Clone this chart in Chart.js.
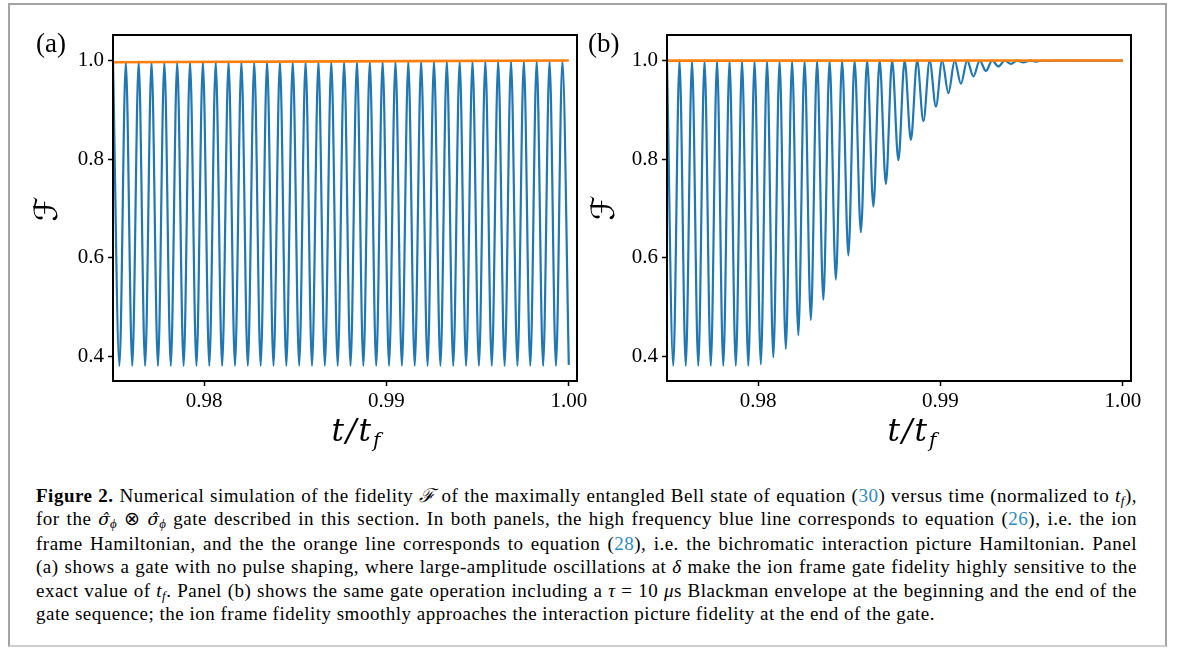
<!DOCTYPE html>
<html><head><meta charset="utf-8">
<script src="https://cdn.jsdelivr.net/npm/chart.js@4.4.0/dist/chart.umd.min.js"></script>
<style>
html,body{margin:0;padding:0;background:#fff;}
body{width:1182px;height:648px;position:relative;overflow:hidden;font-family:"Liberation Serif",serif;color:#000;}
#frame{position:absolute;left:8px;top:3px;width:1155px;height:640px;border:2px solid #a3a3a3;border-bottom-color:#cfcfcf;}
canvas{position:absolute;top:0;}
#cA{left:0px;}
#cB{left:560px;}
.plab{position:absolute;font-size:27px;line-height:27px;}
.ylab{position:absolute;font-family:"DejaVu Serif","DejaVu Sans",serif;font-size:32px;line-height:32px;transform:translate(-50%,-50%) rotate(-90deg);}
.xlab{position:absolute;font-family:"DejaVu Serif",serif;font-style:italic;font-size:31px;line-height:31px;letter-spacing:2px;transform:translateX(-50%);white-space:nowrap;}
.xlab sub{font-size:20px;line-height:0;vertical-align:-6px;}
#cap{position:absolute;left:36px;top:484px;width:1101px;font-size:19px;line-height:23.4px;letter-spacing:0.5px;}
#cap .ln{text-align:justify;text-align-last:justify;}
#cap .ln.last{text-align-last:left;}
#cap sub{font-size:0.68em;line-height:0;vertical-align:-0.25em;}
#cap .ref{color:#2b8cc4;}
#cap .sg{font-family:"DejaVu Serif",serif;font-size:17px;letter-spacing:0;}
</style>
</head>
<body>
<div id="frame"></div>
<canvas id="cA" width="600" height="470"></canvas>
<canvas id="cB" width="622" height="470"></canvas>
<div class="plab" style="left:36px;top:30px;">(a)</div>
<div class="plab" style="left:588px;top:30px;">(b)</div>
<div class="ylab" style="left:46px;top:209px;">ℱ</div>
<div class="ylab" style="left:603px;top:208px;">ℱ</div>
<div class="xlab" style="left:357px;top:415px;">t/t<sub>f</sub></div>
<div class="xlab" style="left:913px;top:415px;">t/t<sub>f</sub></div>
<div id="cap">
<div class="ln"><b>Figure 2.</b> Numerical simulation of the fidelity <i>ℱ</i> of the maximally entangled Bell state of equation (<span class="ref">30</span>) versus time (normalized to <i>t</i><sub><i>f</i></sub>),</div>
<div class="ln">for the <i class="sg">σ̂</i><sub><i>ϕ</i></sub> ⊗ <i class="sg">σ̂</i><sub><i>ϕ</i></sub> gate described in this section. In both panels, the high frequency blue line corresponds to equation (<span class="ref">26</span>), i.e. the ion</div>
<div class="ln">frame Hamiltonian, and the the orange line corresponds to equation (<span class="ref">28</span>), i.e. the bichromatic interaction picture Hamiltonian. Panel</div>
<div class="ln">(a) shows a gate with no pulse shaping, where large-amplitude oscillations at <i>δ</i> make the ion frame gate fidelity highly sensitive to the</div>
<div class="ln">exact value of <i>t</i><sub><i>f</i></sub>. Panel (b) shows the same gate operation including a <i>τ</i> = 10 <i>μ</i>s Blackman envelope at the beginning and the end of the</div>
<div class="ln last">gate sequence; the ion frame fidelity smoothly approaches the interaction picture fidelity at the end of the gate.</div>
</div>
<script>
// ---- data ----
const xTicks = [0.98, 0.99, 1.00];
const yTicks = [0.4, 0.6, 0.8, 1.0];

// Panel (a): times of successive maxima/minima of the blue curve
const tA = [
0.975000,0.975352,0.975704,0.976056,0.976408,0.976761,0.977113,0.977465,0.977817,0.978169,
0.978521,0.978873,0.979225,0.979577,0.979930,0.980282,0.980634,0.980986,0.981338,0.981690,
0.982042,0.982394,0.982746,0.983099,0.983451,0.983803,0.984155,0.984507,0.984859,0.985211,
0.985563,0.985915,0.986268,0.986620,0.986972,0.987324,0.987676,0.988028,0.988380,0.988732,
0.989085,0.989437,0.989789,0.990141,0.990493,0.990845,0.991197,0.991549,0.991901,0.992254,
0.992606,0.992958,0.993310,0.993662,0.994014,0.994366,0.994718,0.995070,0.995423,0.995775,
0.996127,0.996479,0.996831,0.997183,0.997535,0.997887,0.998239,0.998592,0.998944,0.999296,
0.999648,1.000000];
const fA = [
0.997,0.381,0.997,0.381,0.997,0.381,0.997,0.381,0.997,0.381,0.997,0.381,
0.997,0.381,0.997,0.381,0.997,0.381,0.997,0.381,0.997,0.381,0.997,0.381,
0.998,0.381,0.998,0.381,0.998,0.381,0.998,0.381,0.998,0.381,0.998,0.381,
0.998,0.381,0.998,0.381,0.998,0.381,0.998,0.381,0.998,0.381,0.998,0.381,
0.999,0.381,0.999,0.381,0.999,0.381,0.999,0.381,0.999,0.381,0.999,0.381,
0.999,0.381,0.999,0.381,0.999,0.381,0.999,0.381,0.999,0.381,0.999,0.383];
const tOrA = [0.975, 0.9875, 1.0];
const fOrA = [0.9966, 0.9984, 1.0];

// Panel (b): times of successive maxima/minima of the blue curve
const tB = [
0.975000,0.975343,0.975686,0.976029,0.976372,0.976715,0.977058,0.977401,0.977744,0.978087,
0.978430,0.978773,0.979116,0.979459,0.979802,0.980145,0.980488,0.980831,0.981174,0.981517,
0.981860,0.982203,0.982546,0.982889,0.983232,0.983575,0.983918,0.984261,0.984604,0.984947,
0.985290,0.985633,0.985976,0.986319,0.986662,0.987005,0.987348,0.987691,0.988034,0.988377,
0.988720,0.989063,0.989406,0.989749,0.990092,0.990435,0.990778,0.991121,0.991464,0.991807,
0.992150,0.992493,0.992836,0.993179,0.993522,0.993865,0.994208,0.994551,0.994894,0.995237,
0.995580,0.995923,0.996266,0.996609,0.996952,0.997295,0.997638,0.997981,0.998324,0.998667,
0.999010,0.999353,0.999696,1.000000];
const fB = [
1.0,0.381,1.0,0.381,1.0,0.381,1.0,0.381,1.0,0.381,
1.0,0.381,1.0,0.381,1.0,0.384,1.0,0.398,1.0,0.415,
1.0,0.443,1.0,0.474,1.0,0.515,1.0,0.556,1.0,0.605,
1.0,0.652,1.0,0.704,1.0,0.750,1.0,0.798,1.0,0.839,
1.0,0.877,1.0,0.907,1.0,0.934,1.0,0.953,1.0,0.968,
1.0,0.979,1.0,0.988,1.0,0.993,1.0,0.996,1.0,0.998,
1.0,0.9993,1.0,0.9997,1.0,0.9999,1.0,1.0,1.0,1.0,
1.0,1.0,1.0,1.0];
const tOrB = [0.975, 1.0];
const fOrB = [0.9998, 1.0];

const X_MIN = 0.975, X_MAX = 1.00045;
const Y_MIN = 0.3503, Y_MAX = 1.0518;

// ---- chart helpers ----
const boxPlugin = {
  id: 'boxPlugin',
  afterDatasetsDraw(chart) {
    const a = chart.chartArea, ctx = chart.ctx;
    ctx.save();
    ctx.strokeStyle = '#000';
    ctx.lineWidth = 2;
    ctx.strokeRect(a.left, a.top, a.right - a.left, a.bottom - a.top);
    ctx.restore();
  }
};

function pts(t, f) { return t.map((v, i) => ({x: v, y: f[i]})); }

function makeChart(id, bT, bF, oT, oF, yW, padR, xH) {
  const tickFont = {family: "'Liberation Serif', 'Times New Roman', serif", size: 21};
  return new Chart(document.getElementById(id), {
    type: 'line',
    data: {datasets: [
      {data: pts(oT, oF), borderColor: '#ff7f0e', borderWidth: 2.6, pointRadius: 0, tension: 0, fill: false, order: 0},
      {data: pts(bT, bF), borderColor: '#1f77b4', borderWidth: 2.2, pointRadius: 0, cubicInterpolationMode: 'monotone', fill: false, order: 1}
    ]},
    options: {
      responsive: false, animation: false, devicePixelRatio: 1,
      layout: {padding: {left: 0, right: padR, top: 35, bottom: 0}},
      plugins: {legend: {display: false}, tooltip: {enabled: false}},
      scales: {
        x: {
          type: 'linear', min: X_MIN, max: X_MAX,
          afterBuildTicks: s => { s.ticks = xTicks.map(v => ({value: v})); },
          ticks: {callback: v => v.toFixed(2), font: tickFont, color: '#000', padding: 3, maxRotation: 0, autoSkip: false},
          grid: {display: true, drawOnChartArea: false, drawTicks: true, tickLength: 5, tickWidth: 1.5, tickColor: '#000'},
          border: {display: false},
          afterFit: s => { s.height = xH; }
        },
        y: {
          type: 'linear', min: Y_MIN, max: Y_MAX,
          afterBuildTicks: s => { s.ticks = yTicks.map(v => ({value: v})); },
          ticks: {callback: v => v.toFixed(1), font: tickFont, color: '#000', padding: 4, autoSkip: false},
          grid: {display: true, drawOnChartArea: false, drawTicks: true, tickLength: 5, tickWidth: 1.5, tickColor: '#000'},
          border: {display: false},
          afterFit: s => { s.width = yW; }
        }
      }
    },
    plugins: [boxPlugin]
  });
}

makeChart('cA', tA, fA, tOrA, fOrA, 113, 23, 89);
makeChart('cB', tB, fB, tOrB, fOrB, 107, 51, 89);
</script>
</body></html>
